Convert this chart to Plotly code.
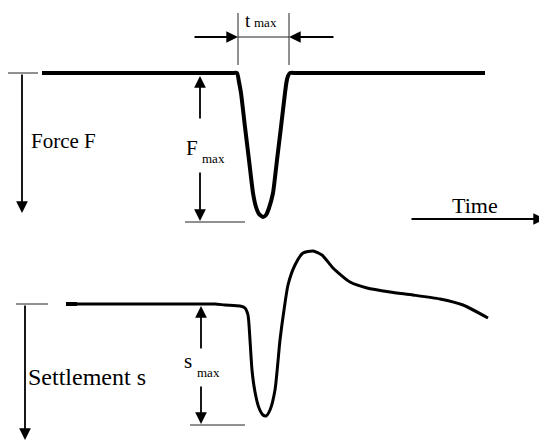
import plotly.graph_objects as go

# schematic drawn in a 547 x 443 coordinate frame (y grows downwards)
force_t = [42, 120, 200, 232, 237, 239, 241, 245, 249, 253, 256, 259, 263, 266, 269, 273, 277, 281, 285,
           286.5, 288, 290, 296, 350, 420, 485]
force_y = [73, 73, 73, 73, 73, 82, 93, 127, 160, 193, 207, 214, 217, 215, 208, 193, 160, 127, 93,
           82, 76, 73, 73, 73, 73, 73]

settle_t = [66, 120, 180, 215, 225, 240, 245, 248, 250, 252, 255, 259, 263, 266, 270, 275, 280, 284, 288, 295,
            303, 313, 322, 333, 350, 367, 390, 413, 440, 463, 488]
settle_y = [304, 304, 304, 304, 305, 306, 308, 315, 340, 370, 392, 408, 415, 416, 410, 390, 340, 310, 285, 265,
            253, 251, 255, 268, 282, 288, 292, 295, 299, 305, 318]
settle_start_t = [66, 77]

FONT = "Liberation Serif, Times New Roman, DejaVu Serif, serif"
W, H = 547, 443
PAGE = 8  # default body margin of the html page

fig = go.Figure()
fig.add_trace(go.Scatter(x=force_t, y=force_y, mode="lines",
                         line=dict(color="black", width=4, shape="spline", smoothing=0.5)))
fig.add_trace(go.Scatter(x=settle_t, y=settle_y, mode="lines",
                         line=dict(color="black", width=3, shape="spline", smoothing=0.6)))
fig.add_trace(go.Scatter(x=settle_start_t, y=[settle_y[0]] * 2, mode="lines",
                         line=dict(color="black", width=4)))

# thin reference lines
thin = dict(color="#222222", width=1)
for x0, y0, x1, y1 in [(7, 73, 38, 73), (185, 222, 245, 222), (16, 304, 48, 304), (190, 425, 245, 425),
                       (238, 13, 238, 65), (289, 13, 289, 65), (238, 37, 289, 37)]:
    fig.add_shape(type="line", x0=x0, y0=y0, x1=x1, y1=y1, line=thin)


def arrow(x_tip, y_tip, x_tail, y_tail):
    fig.add_annotation(x=x_tip, y=y_tip, ax=x_tail, ay=y_tail, xref="x", yref="y", axref="x", ayref="y",
                       text="", showarrow=True, arrowhead=2, arrowsize=1.3, arrowwidth=1.8, arrowcolor="black")


arrow(22, 213, 22, 73)       # force axis
arrow(25, 440, 25, 304)      # settlement axis
arrow(545, 219, 410, 219)    # time axis
arrow(200, 76, 200, 120)     # F_max up
arrow(200, 221, 200, 171)    # F_max down
arrow(201, 306, 201, 350)    # s_max up
arrow(201, 424, 201, 385)    # s_max down
arrow(238, 37, 193, 37)      # t_max left
arrow(289, 37, 335, 37)      # t_max right


def label(x, y, text, size=21, anchor="left"):
    fig.add_annotation(x=x, y=y, xref="x", yref="y", text=text, showarrow=False, xanchor=anchor,
                       yanchor="middle", borderpad=0, font=dict(family=FONT, size=size, color="black"))


label(30, 141, "Force F")
label(27, 377, "Settlement s", size=24)
label(451, 205, "Time", size=22)
label(185, 148, "F")
label(201, 158, "max", size=13)
label(244, 20, "t", size=19)
label(253, 22, "max", size=13)
label(183, 361, "s")
label(196, 372, "max", size=13)

fig.update_xaxes(range=[PAGE, W], visible=False, fixedrange=True)
fig.update_yaxes(range=[H, PAGE], visible=False, fixedrange=True)
fig.update_layout(width=W - PAGE, height=H - PAGE, margin=dict(l=0, r=0, t=0, b=0),
                  paper_bgcolor="white", plot_bgcolor="white", showlegend=False)
fig.write_html("out.html")
